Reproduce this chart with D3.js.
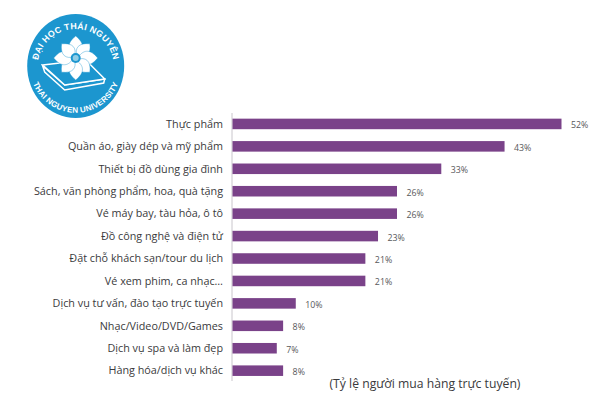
<!DOCTYPE html>
<html><head><meta charset="utf-8">
<script src="https://cdn.jsdelivr.net/npm/d3@7"></script>
<style>html,body{margin:0;background:#fff}svg{display:block}</style></head>
<body><svg id="c" width="600" height="400"></svg>
<script>
const categories=["Thực phẩm","Quần áo, giày dép và mỹ phẩm","Thiết bị đồ dùng gia đình","Sách, văn phòng phẩm, hoa, quà tặng","Vé máy bay, tàu hỏa, ô tô","Đồ công nghệ và điện tử","Đặt chỗ khách sạn/tour du lịch","Vé xem phim, ca nhạc…","Dịch vụ tư vấn, đào tạo trực tuyến","Nhạc/Video/DVD/Games","Dịch vụ spa và làm đẹp","Hàng hóa/dịch vụ khác"];
const values=[52,43,33,26,26,23,21,21,10,8,7,8];
const axisTitle="(Tỷ lệ người mua hàng trực tuyến)";
const logoTop="ĐẠI HỌC THÁI NGUYÊN";
const logoBottom="THAI NGUYEN UNIVERSITY";
const font="'Open Sans','Noto Sans',sans-serif";
const svg=d3.select("#c");
const x=d3.scaleLinear().domain([0,52]).range([232.5,561.5]);
const y=d3.scaleBand().domain(categories).range([112.6,382]).paddingInner(0.53).paddingOuter(0.27);
svg.append("line").attr("x1",232).attr("x2",232).attr("y1",113).attr("y2",381).attr("stroke","#c9c6cc").attr("stroke-width",1);
svg.selectAll("rect.bar").data(values).join("rect").attr("class","bar")
 .attr("x",x(0)).attr("y",(d,i)=>y(categories[i])).attr("width",d=>x(d)-x(0)).attr("height",y.bandwidth()).attr("fill","#7a4289");
svg.selectAll("text.cat").data(categories).join("text").attr("class","cat")
 .attr("x",223).attr("y",d=>y(d)+y.bandwidth()/2+3.8).attr("text-anchor","end")
 .attr("font-family",font).attr("font-size",10.8).attr("fill","#3a3a3c").text(d=>d);
svg.selectAll("text.val").data(values).join("text").attr("class","val")
 .attr("x",d=>x(d)+9.5).attr("y",(d,i)=>y(categories[i])+y.bandwidth()/2+4.5)
 .attr("font-family",font).attr("font-size",8.8).attr("fill","#58585a").text(d=>d+"%");
svg.append("text").attr("x",329.5).attr("y",387.7).attr("font-family",font).attr("font-size",12.2).attr("fill","#3a3a3c").text(axisTitle);
// logo
const g=svg.append("g").attr("transform","translate(75.7,66)");
g.append("ellipse").attr("rx",48.5).attr("ry",52).attr("fill","#1c96cf");
const defs=svg.append("defs");
defs.append("path").attr("id","arcT").attr("d","M-35.2,14A38,37 0 1 1 35.2,14");
defs.append("path").attr("id","arcB").attr("d","M-45.6,6A46,47 0 0 0 45.6,6");
g.append("text").attr("font-family","'Liberation Sans',sans-serif").attr("font-size",8.8).attr("font-weight",700).attr("fill","#fff").attr("letter-spacing",0.3)
 .append("textPath").attr("href","#arcT").attr("startOffset","50%").attr("text-anchor","middle").text(logoTop);
g.append("text").attr("font-family","'Liberation Sans',sans-serif").attr("font-size",8).attr("font-weight",700).attr("fill","#fff").attr("letter-spacing",0.2)
 .append("textPath").attr("href","#arcB").attr("startOffset","50%").attr("text-anchor","middle").text(logoBottom);
// book
g.append("path").attr("d","M-33,0 L-31,6 L-11,24 L28,17 L29,13 L-11,19 Z").attr("fill","#1c96cf").attr("stroke","#fff").attr("stroke-width",1.5);
g.append("path").attr("d","M-33,-1 L10,-6 L29,13 L-11,19 Z").attr("fill","#1c96cf").attr("stroke","#fff").attr("stroke-width",1.5);
// flower
const fl=g.append("g").attr("transform","translate(0,-8)");
fl.selectAll("path.petal").data(d3.range(8)).join("path").attr("class","petal")
 .attr("d",d=>d%2?"M0,-2 C8,-6 9,-13 0,-20 C-9,-13 -8,-6 0,-2Z":"M0,-2 C8,-7 10,-14 0,-22 C-10,-14 -8,-7 0,-2Z").attr("fill","#fff")
 .attr("stroke","#1c96cf").attr("stroke-width",0.4)
 .attr("transform",d=>`rotate(${d*45})`);
fl.append("circle").attr("r",5).attr("fill","#1c96cf");
fl.append("circle").attr("r",3).attr("fill","#8fcde6");
</script></body></html>
